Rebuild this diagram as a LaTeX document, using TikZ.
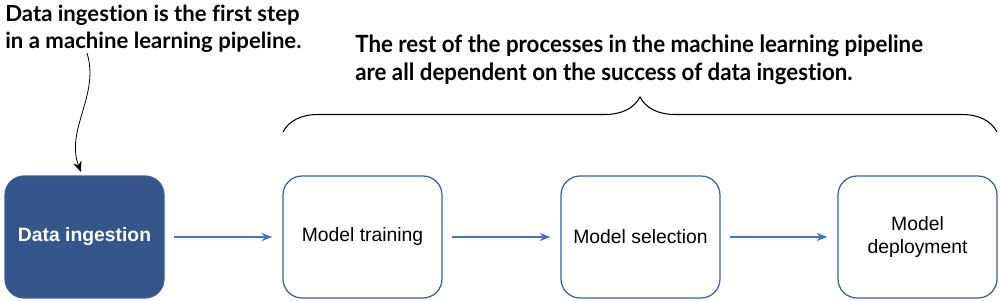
\documentclass[tikz,border=0pt]{standalone}
\usepackage{fontspec}
\setmainfont{Liberation Sans}
\newfontfamily\notefont[FakeStretch=0.94, Ligatures=NoCommon]{Lato}
\newfontfamily\widenotefont[Ligatures=NoCommon]{Lato}
\usetikzlibrary{arrows.meta, decorations.pathreplacing}

\definecolor{stepblue}{HTML}{34568B}
\definecolor{edgeblue}{HTML}{3B5D9C}
\definecolor{flowblue}{HTML}{4472C4}

\begin{document}
\begin{tikzpicture}[
    >=Stealth,
    stage/.style={draw=edgeblue, line width=0.7pt, rounded corners=0.38cm,
        minimum width=3.18cm, minimum height=2.44cm, align=center,
        font=\fontsize{11}{13}\selectfont},
    flow/.style={->, flowblue, line width=0.7pt, shorten <=0.18cm, shorten >=0.2cm},
    note/.style={anchor=north west, align=left, inner sep=0pt},
]
\useasboundingbox (0, 0) rectangle (20, 6);

% === Pipeline stages ===
\node[stage, fill=stepblue, text=white, font=\fontsize{11}{13}\selectfont\bfseries]
    (ingest) at (1.69, 1.26) {Data ingestion};
\node[stage] (train)  at (7.25, 1.26) {Model training};
\node[stage] (select) at (12.81, 1.26) {Model selection};
\node[stage] (deploy) at (18.35, 1.26) {Model\\deployment};

% === Flow between stages ===
\draw[flow] (ingest) -- (train);
\draw[flow] (train) -- (select);
\draw[flow] (select) -- (deploy);

% === Note on the first step ===
\node[note, font=\widenotefont\fontsize{12.6}{15.4}\selectfont\bfseries]
    (firstnote) at (0.1, 5.9) {Data ingestion is the first step\\in a machine learning pipeline.};
\coordinate (notefoot) at (1.74, 4.94);
\coordinate (pointer) at (1.62, 2.56);
\draw[-{Stealth[length=6pt, width=5pt]}, line width=0.45pt]
    (notefoot) .. controls (2.0, 4.1) and (1.3, 3.4) .. (pointer);

% === Note on the rest of the pipeline ===
\node[note, font=\notefont\fontsize{13.5}{15.4}\selectfont\bfseries]
    (restnote) at (7.1, 5.3) {The rest of the processes in the machine learning pipeline\\are all dependent on the success of data ingestion.};
\coordinate (bracestart) at (5.66, 3.36);
\coordinate (braceend) at (19.94, 3.36);
\draw[line width=0.6pt, decorate, decoration={brace, amplitude=0.7cm}]
    (bracestart) -- (braceend);

\end{tikzpicture}
\end{document}
